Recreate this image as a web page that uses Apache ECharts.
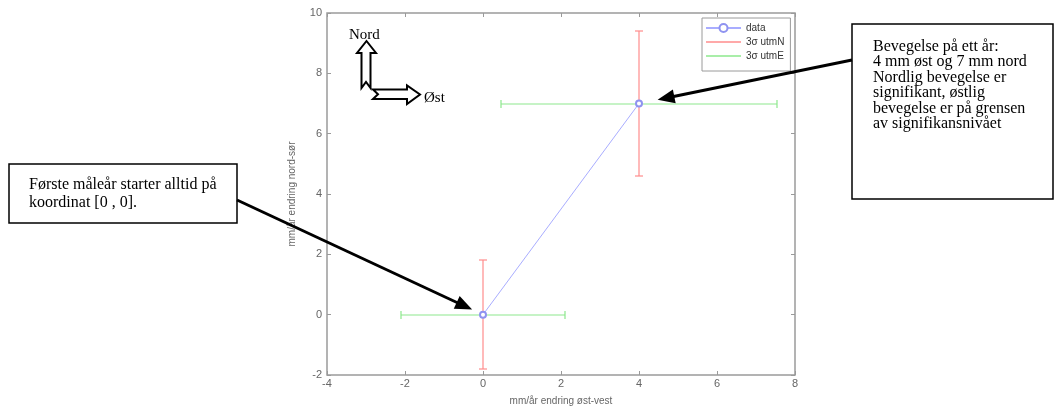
<!DOCTYPE html>
<html>
<head>
<meta charset="utf-8">
<script src="https://cdn.jsdelivr.net/npm/echarts@6/dist/echarts.min.js"></script>
<style>
  html, body { margin: 0; padding: 0; background: #fff; }
  #main { width: 1057px; height: 411px; }
</style>
</head>
<body>
<div id="main"></div>
<script>
// Yearly displacement of one survey point (mm/year), with 3-sigma uncertainties
const seriesNames = ['data', '3σ utmN', '3σ utmE'];
const eastVals = [0, 4];        // east-west change
const northVals = [0, 7];       // north-south change
const sigmaN = [1.8, 2.4];      // 3σ in north component
const sigmaE = [2.1, 3.55];     // 3σ in east component
const xTicks = [-4, -2, 0, 2, 4, 6, 8];
const yTicks = [-2, 0, 2, 4, 6, 8, 10];

const points = eastVals.map((e, i) => [e, northVals[i]]);

const colBlue = '#a9adff';
const colRed = '#ff8c8c';
const colGreen = '#8de88d';
const axisGrey = '#9a9a9a';
const labelGrey = '#666';
const sans = 'Liberation Sans, Arial, sans-serif';
const serif = 'Liberation Serif, Times New Roman, serif';

// whole-pixel positions give the thin bars a soft two-pixel stroke
const snap = v => Math.round(v);

function errorBar(vertical) {
  return function (params, api) {
    const x = api.value(0), y = api.value(1), s = api.value(2);
    const a = (vertical ? api.coord([x, y - s]) : api.coord([x - s, y])).map(snap);
    const b = (vertical ? api.coord([x, y + s]) : api.coord([x + s, y])).map(snap);
    const style = { stroke: api.visual('color'), lineWidth: 1.2 };
    const cap = 4;
    const capLine = p => vertical
      ? { type: 'line', shape: { x1: p[0] - cap, y1: p[1], x2: p[0] + cap, y2: p[1] }, style }
      : { type: 'line', shape: { x1: p[0], y1: p[1] - cap, x2: p[0], y2: p[1] + cap }, style };
    return {
      type: 'group',
      children: [
        { type: 'line', shape: { x1: a[0], y1: a[1], x2: b[0], y2: b[1] }, style },
        capLine(a), capLine(b)
      ]
    };
  };
}

const tickStyle = { inside: true, length: 4, lineStyle: { color: axisGrey, width: 1 } };
const hiddenLine = { show: false, onZero: false };
const xMin = xTicks[0], xMax = xTicks[xTicks.length - 1], xStep = xTicks[1] - xTicks[0];
const yMin = yTicks[0], yMax = yTicks[yTicks.length - 1], yStep = yTicks[1] - yTicks[0];

const chart = echarts.init(document.getElementById('main'), null, { renderer: 'canvas' });

const option = {
  animation: false,
  backgroundColor: '#fff',
  grid: {
    left: 327, right: 262, top: 13, bottom: 31,
    show: true, borderColor: axisGrey, borderWidth: 1.5, backgroundColor: 'transparent'
  },
  xAxis: [
    {
      type: 'value', min: xMin, max: xMax, interval: xStep, position: 'bottom',
      axisLine: hiddenLine, axisTick: tickStyle, splitLine: { show: false },
      axisLabel: { color: labelGrey, fontSize: 11, fontFamily: sans, margin: 3 },
      name: 'mm/år endring øst-vest', nameLocation: 'middle', nameGap: 21,
      nameTextStyle: { color: labelGrey, fontSize: 10, fontFamily: sans }
    },
    {
      type: 'value', min: xMin, max: xMax, interval: xStep, position: 'top',
      axisLine: hiddenLine, axisTick: tickStyle, splitLine: { show: false },
      axisLabel: { show: false }
    }
  ],
  yAxis: [
    {
      type: 'value', min: yMin, max: yMax, interval: yStep, position: 'left',
      axisLine: hiddenLine, axisTick: tickStyle, splitLine: { show: false },
      axisLabel: { color: labelGrey, fontSize: 11, fontFamily: sans, margin: 5 },
      name: 'mm/år endring nord-sør', nameLocation: 'middle', nameGap: 30,
      nameTextStyle: { color: labelGrey, fontSize: 10, fontFamily: sans }
    },
    {
      type: 'value', min: yMin, max: yMax, interval: yStep, position: 'right',
      axisLine: hiddenLine, axisTick: tickStyle, splitLine: { show: false },
      axisLabel: { show: false }
    }
  ],
  legend: {
    orient: 'vertical', left: 702, top: 18,
    itemWidth: 35, itemHeight: 10, itemGap: 4, itemTextGap: 4,
    padding: [5, 6, 10, 3],
    borderColor: axisGrey, borderWidth: 1, backgroundColor: '#fff',
    textStyle: { color: '#333', fontSize: 10, fontFamily: sans },
    data: [
      { name: seriesNames[0] },
      { name: seriesNames[1], icon: 'path://M0,0H36V1.4H0Z' },
      { name: seriesNames[2], icon: 'path://M0,0H36V1.4H0Z' }
    ]
  },
  series: [
    {
      name: seriesNames[1], type: 'custom', xAxisIndex: 0, yAxisIndex: 0,
      data: points.map((p, i) => [p[0], p[1], sigmaN[i]]),
      encode: { x: 0, y: 1 }, renderItem: errorBar(true),
      itemStyle: { color: colRed }, z: 2
    },
    {
      name: seriesNames[2], type: 'custom', xAxisIndex: 0, yAxisIndex: 0,
      data: points.map((p, i) => [p[0], p[1], sigmaE[i]]),
      encode: { x: 0, y: 1 }, renderItem: errorBar(false),
      itemStyle: { color: colGreen }, z: 2
    },
    {
      name: seriesNames[0], type: 'line', xAxisIndex: 0, yAxisIndex: 0,
      data: points, symbol: 'emptyCircle', symbolSize: 6,
      lineStyle: { color: colBlue, width: 1 },
      itemStyle: { color: '#8f93f0', borderWidth: 1 }, z: 3
    }
  ]
};
chart.setOption(option);

// Callout arrows: black line with a filled head stopping just short of the point
function arrow(tail, target, gap) {
  const dx = target[0] - tail[0], dy = target[1] - tail[1];
  const len = Math.hypot(dx, dy), ux = dx / len, uy = dy / len;
  const tip = [target[0] - ux * gap, target[1] - uy * gap];
  const headLen = 17, half = 7;
  const base = [tip[0] - ux * headLen, tip[1] - uy * headLen];
  return [
    { type: 'line', shape: { x1: tail[0], y1: tail[1], x2: base[0] + ux * 2, y2: base[1] + uy * 2 },
      style: { stroke: '#000', lineWidth: 3 }, z: 10 },
    { type: 'polygon', shape: { points: [tip,
        [base[0] - uy * half, base[1] + ux * half],
        [base[0] + uy * half, base[1] - ux * half]] },
      style: { fill: '#000' }, z: 10 }
  ];
}

const p0 = chart.convertToPixel({ xAxisIndex: 0, yAxisIndex: 0 }, points[0]);
const p1 = chart.convertToPixel({ xAxisIndex: 0, yAxisIndex: 0 }, points[1]);

const graphics = [
  // compass: hollow block arrows
  { type: 'polygon', z: 10, shape: { points: [[361.5, 53], [357, 53], [366.5, 41], [376, 53], [370.5, 53], [370.5, 88], [366, 82], [361.5, 88]] },
    style: { fill: '#fff', stroke: '#000', lineWidth: 2 } },
  { type: 'polygon', z: 10, shape: { points: [[373, 89.5], [407, 89.5], [407, 85.5], [420, 94.5], [407, 104], [407, 99], [373, 99], [378, 94.3]] },
    style: { fill: '#fff', stroke: '#000', lineWidth: 2 } },
  { type: 'text', z: 11, x: 349, y: 35, style: { text: 'Nord', font: '15px ' + serif, fill: '#000', verticalAlign: 'middle' } },
  { type: 'text', z: 11, x: 424, y: 98, style: { text: 'Øst', font: '15px ' + serif, fill: '#000', verticalAlign: 'middle' } },

  // left note
  { type: 'rect', z: 10, shape: { x: 9, y: 164, width: 228, height: 59 },
    style: { fill: '#fff', stroke: '#000', lineWidth: 1.5 } },
  { type: 'text', z: 11, x: 29, y: 176,
    style: { text: 'Første måleår starter alltid på\nkoordinat [0 , 0].', font: '16px ' + serif, lineHeight: 18, fill: '#000', verticalAlign: 'top' } },

  // right note
  { type: 'rect', z: 10, shape: { x: 852, y: 24, width: 201, height: 175 },
    style: { fill: '#fff', stroke: '#000', lineWidth: 1.5 } },
  { type: 'text', z: 11, x: 873, y: 39,
    style: { text: 'Bevegelse på ett år:\n4 mm øst og 7 mm nord\nNordlig bevegelse er\nsignifikant, østlig\nbevegelse er på grensen\nav signifikansnivået',
      font: '16px ' + serif, lineHeight: 15.5, fill: '#000', verticalAlign: 'top' } }
]
  .concat(arrow([237, 200], p0, 12))
  .concat(arrow([852, 60], p1, 19));

chart.setOption({ graphic: graphics });
</script>
</body>
</html>
